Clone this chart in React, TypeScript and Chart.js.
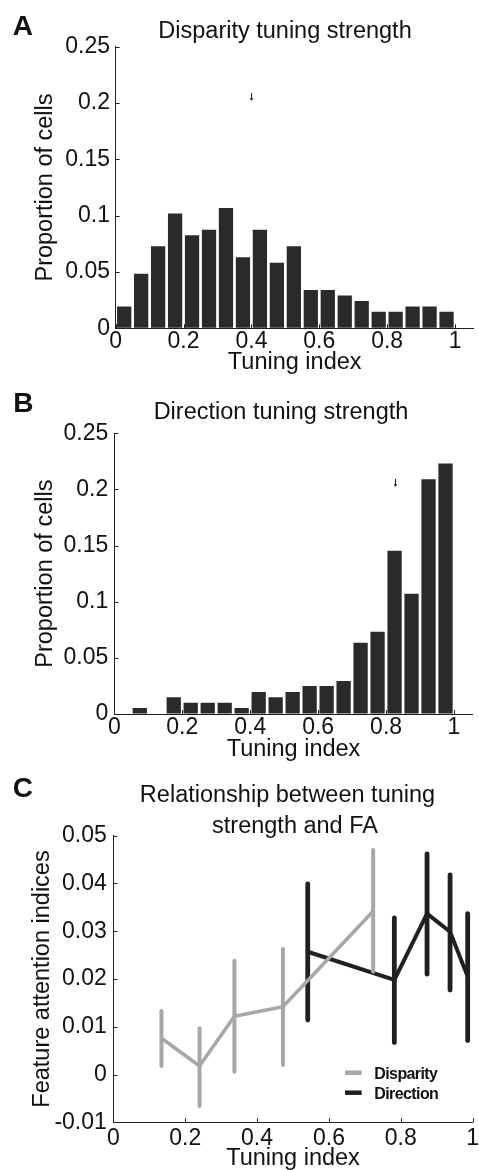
import React, { useEffect, useRef } from 'react';
import { Chart, registerables } from 'chart.js';

Chart.register(...registerables);

const FONT = "'Liberation Sans', Arial, Helvetica, sans-serif";
const TEXT = '#111111';
const AXIS = '#1f1f1f';
const BAR = '#2b292a';
const GRAY = '#a7a7a9';
const BLACK = '#231f20';

// ---------- Data: histograms (A, B) ----------
const binCenters = [0.025, 0.075, 0.125, 0.175, 0.225, 0.275, 0.325, 0.375, 0.425, 0.475, 0.525, 0.575, 0.625, 0.675, 0.725, 0.775, 0.825, 0.875, 0.925, 0.975];
const disparityProportion = [0.0194, 0.0485, 0.0728, 0.1019, 0.0825, 0.0874, 0.1068, 0.0631, 0.0874, 0.0583, 0.0728, 0.034, 0.034, 0.0291, 0.0243, 0.0146, 0.0146, 0.0194, 0.0194, 0.0146];
const directionProportion = [0, 0.0053, 0, 0.015, 0.010, 0.010, 0.010, 0.0053, 0.0196, 0.015, 0.0196, 0.025, 0.025, 0.0294, 0.0635, 0.0733, 0.1455, 0.107, 0.209, 0.223];

const disparityArrowX = [0.398];
const disparityArrowTop = [0.2089];
const disparityArrowBottom = [0.2018];
const directionArrowX = [0.825];
const directionArrowTop = [0.2093];
const directionArrowBottom = [0.2022];

const histXTicks = [0, 0.2, 0.4, 0.6, 0.8, 1];
const histXTickLabels = ['0', '0.2', '0.4', '0.6', '0.8', '1'];
const histYTicks = [0, 0.05, 0.1, 0.15, 0.2, 0.25];
const histYTickLabels = ['0', '0.05', '0.1', '0.15', '0.2', '0.25'];

// ---------- Data: panel C ----------
const disparityX = [0.134, 0.240, 0.337, 0.472, 0.723];
const disparityMean = [0.0076, 0.0018, 0.0122, 0.0142, 0.0342];
const disparityLow = [0.0018, -0.0066, 0.0006, 0.0020, 0.0215];
const disparityHigh = [0.0133, 0.0097, 0.0238, 0.0263, 0.0470];

const directionX = [0.541, 0.782, 0.873, 0.937, 0.986];
const directionMean = [0.0257, 0.0198, 0.0337, 0.0299, 0.0205];
const directionLow = [0.0114, 0.0067, 0.0210, 0.0177, 0.0071];
const directionHigh = [0.0399, 0.0328, 0.0462, 0.0418, 0.0337];

const faXTicks = [0, 0.2, 0.4, 0.6, 0.8, 1];
const faXTickLabels = ['0', '0.2', '0.4', '0.6', '0.8', '1'];
const faYTicks = [-0.01, 0, 0.01, 0.02, 0.03, 0.04, 0.05];
const faYTickLabels = ['-0.01', '0', '0.01', '0.02', '0.03', '0.04', '0.05'];

// ---------- Plugins ----------
const inwardTicks = {
  id: 'inwardTicks',
  beforeDatasetsDraw(chart: any, _a: any, opts: any) {
    const { ctx, chartArea, scales } = chart;
    const len = opts.length || 4;
    ctx.save();
    ctx.strokeStyle = AXIS;
    ctx.lineWidth = 1;
    ctx.beginPath();
    for (const t of scales.x.ticks) {
      const px = Math.round(scales.x.getPixelForValue(t.value)) + 0.5;
      ctx.moveTo(px, chartArea.bottom);
      ctx.lineTo(px, chartArea.bottom - len);
    }
    for (const t of scales.y.ticks) {
      const py = Math.round(scales.y.getPixelForValue(t.value)) + 0.5;
      ctx.moveTo(chartArea.left, py);
      ctx.lineTo(chartArea.left + len, py);
    }
    ctx.stroke();
    ctx.restore();
  },
};

const panelText = {
  id: 'panelText',
  afterDraw(chart: any, _a: any, opts: any) {
    const ctx = chart.ctx;
    ctx.save();
    ctx.fillStyle = TEXT;
    ctx.textBaseline = 'alphabetic';
    ctx.textAlign = 'left';
    ctx.font = `bold 28px ${FONT}`;
    ctx.fillText(opts.letter, opts.letterX, opts.letterY);
    ctx.font = `23.5px ${FONT}`;
    ctx.textAlign = 'center';
    const lines = opts.lines || [];
    for (let i = 0; i < lines.length; i++) {
      ctx.fillText(lines[i].text, lines[i].x, lines[i].y);
    }
    ctx.restore();
  },
};

const meanArrow = {
  id: 'meanArrow',
  afterDatasetsDraw(chart: any, _a: any, opts: any) {
    const { ctx, scales } = chart;
    const xs = opts.x || [];
    ctx.save();
    ctx.strokeStyle = '#222';
    ctx.fillStyle = '#222';
    ctx.lineWidth = 1;
    for (let i = 0; i < xs.length; i++) {
      const px = Math.round(scales.x.getPixelForValue(xs[i])) + 0.5;
      const top = scales.y.getPixelForValue(opts.top[i]);
      const bot = scales.y.getPixelForValue(opts.bottom[i]);
      ctx.beginPath();
      ctx.moveTo(px, top);
      ctx.lineTo(px, bot - 2);
      ctx.stroke();
      ctx.beginPath();
      ctx.moveTo(px - 1.8, bot - 2.8);
      ctx.lineTo(px + 1.8, bot - 2.8);
      ctx.lineTo(px, bot);
      ctx.closePath();
      ctx.fill();
    }
    ctx.restore();
  },
};

const errorBars = {
  id: 'errorBars',
  beforeDatasetDraw(chart: any, args: any) {
    const ds = chart.data.datasets[args.index];
    if (!ds || !ds.errLow) return;
    const { ctx, scales } = chart;
    ctx.save();
    ctx.strokeStyle = ds.borderColor;
    ctx.lineWidth = ds.errWidth;
    ctx.lineCap = 'round';
    ds.data.forEach((p: any, i: number) => {
      const px = scales.x.getPixelForValue(p.x);
      ctx.beginPath();
      ctx.moveTo(px, scales.y.getPixelForValue(ds.errLow[i]));
      ctx.lineTo(px, scales.y.getPixelForValue(ds.errHigh[i]));
      ctx.stroke();
    });
    ctx.restore();
  },
};

const insideLegend = {
  id: 'insideLegend',
  afterDraw(chart: any, _a: any, opts: any) {
    const ctx = chart.ctx;
    ctx.save();
    ctx.font = `bold 16px ${FONT}`;
    try {
      (ctx as any).letterSpacing = '-0.6px';
    } catch (e) {
      /* ignore */
    }
    ctx.textBaseline = 'alphabetic';
    ctx.textAlign = 'left';
    chart.data.datasets.forEach((ds: any, i: number) => {
      const yLine = opts.y + i * opts.rowGap;
      ctx.strokeStyle = ds.borderColor;
      ctx.lineWidth = opts.sampleWidth;
      ctx.lineCap = 'butt';
      ctx.beginPath();
      ctx.moveTo(opts.x, yLine);
      ctx.lineTo(opts.x + opts.sampleLength, yLine);
      ctx.stroke();
      ctx.fillStyle = TEXT;
      ctx.fillText(ds.label, opts.x + opts.textOffset, yLine + 5.8);
    });
    ctx.restore();
  },
};

// ---------- Scale builders ----------
type Geom = {
  canvasH: number;
  padTop: number;
  padRight: number;
  yWidth: number;
  xHeight: number;
  xTickPad: number;
  yTickPad: number;
  yTitlePad: number;
  xTitlePad: number;
};

function makeX(min: number, max: number, ticks: number[], labels: string[], g: Geom) {
  return {
    type: 'linear',
    min,
    max,
    offset: false,
    grid: { display: true, drawOnChartArea: false, drawTicks: false, offset: false },
    border: { display: true, color: AXIS, width: 1 },
    afterBuildTicks: (s: any) => {
      s.ticks = ticks.map((v) => ({ value: v }));
    },
    afterFit: (s: any) => {
      s.height = g.xHeight;
      s.paddingLeft = 0;
      s.paddingRight = 0;
    },
    ticks: {
      autoSkip: false,
      maxRotation: 0,
      minRotation: 0,
      padding: g.xTickPad,
      color: TEXT,
      font: { family: FONT, size: 23 },
      callback: (_v: any, i: number) => labels[i],
    },
    title: {
      display: true,
      text: 'Tuning index',
      color: TEXT,
      font: { family: FONT, size: 23.5 },
      padding: { top: 0, bottom: g.xTitlePad },
    },
  };
}

function makeY(min: number, max: number, ticks: number[], labels: string[], title: string, g: Geom) {
  return {
    type: 'linear',
    min,
    max,
    grid: { display: true, drawOnChartArea: false, drawTicks: false },
    border: { display: true, color: AXIS, width: 1 },
    afterBuildTicks: (s: any) => {
      s.ticks = ticks.map((v) => ({ value: v }));
    },
    afterFit: (s: any) => {
      s.width = g.yWidth;
      s.paddingTop = 0;
      s.paddingBottom = 0;
    },
    ticks: {
      autoSkip: false,
      padding: g.yTickPad,
      color: TEXT,
      font: { family: FONT, size: 23 },
      callback: (_v: any, i: number) => labels[i],
    },
    title: {
      display: true,
      text: title,
      color: TEXT,
      font: { family: FONT, size: 23.5 },
      padding: { top: g.yTitlePad, bottom: 0 },
    },
  };
}

function histConfig(
  values: number[],
  arrowX: number[],
  arrowTop: number[],
  arrowBottom: number[],
  g: Geom,
  letter: { letter: string; letterX: number; letterY: number },
  titleLines: { text: string; x: number; y: number }[]
): any {
  return {
    type: 'bar',
    data: {
      datasets: [
        {
          label: 'Proportion of cells',
          data: binCenters.map((x, i) => ({ x, y: values[i] })),
          backgroundColor: BAR,
          borderWidth: 0,
          barPercentage: 0.84,
          categoryPercentage: 1,
        },
      ],
    },
    options: {
      animation: false,
      responsive: false,
      layout: { padding: { top: g.padTop, right: g.padRight, left: 0, bottom: 0 } },
      scales: {
        x: makeX(0, 1.055, histXTicks, histXTickLabels, g),
        y: makeY(0, 0.25, histYTicks, histYTickLabels, 'Proportion of cells', g),
      },
      plugins: {
        legend: { display: false },
        tooltip: { enabled: false },
        inwardTicks: { length: 4 },
        meanArrow: { x: arrowX, top: arrowTop, bottom: arrowBottom },
        panelText: { ...letter, lines: titleLines },
      },
    },
    plugins: [inwardTicks, meanArrow, panelText],
  };
}

const geomA: Geom = { canvasH: 390, padTop: 46.7, padRight: 5.3, yWidth: 115.7, xHeight: 61.7, xTickPad: 0, yTickPad: 5.7, yTitlePad: 31.4, xTitlePad: 13.3 };
const geomB: Geom = { canvasH: 390, padTop: 53.3, padRight: 6.3, yWidth: 114.3, xHeight: 56, xTickPad: 0, yTickPad: 6, yTitlePad: 31.7, xTitlePad: 5.9 };
const geomC: Geom = { canvasH: 420, padTop: 75.7, padRight: 6.3, yWidth: 113.3, xHeight: 57.7, xTickPad: 2.7, yTickPad: 6.5, yTitlePad: 28.4, xTitlePad: 7.6 };

function configA() {
  return histConfig(
    disparityProportion,
    disparityArrowX,
    disparityArrowTop,
    disparityArrowBottom,
    geomA,
    { letter: 'A', letterX: 12.7, letterY: 35 },
    [{ text: 'Disparity tuning strength', x: 285, y: 38.3 }]
  );
}

function configB() {
  return histConfig(
    directionProportion,
    directionArrowX,
    directionArrowTop,
    directionArrowBottom,
    geomB,
    { letter: 'B', letterX: 13.3, letterY: 31.7 },
    [{ text: 'Direction tuning strength', x: 281, y: 39.3 }]
  );
}

function configC(): any {
  const g = geomC;
  return {
    type: 'line',
    data: {
      datasets: [
        {
          label: 'Disparity',
          data: disparityX.map((x, i) => ({ x, y: disparityMean[i] })),
          errLow: disparityLow,
          errHigh: disparityHigh,
          errWidth: 4,
          borderColor: GRAY,
          backgroundColor: GRAY,
          borderWidth: 3.6,
          borderJoinStyle: 'round',
          pointRadius: 0,
          tension: 0,
          fill: false,
          clip: false,
        },
        {
          label: 'Direction',
          data: directionX.map((x, i) => ({ x, y: directionMean[i] })),
          errLow: directionLow,
          errHigh: directionHigh,
          errWidth: 4.8,
          borderColor: BLACK,
          backgroundColor: BLACK,
          borderWidth: 4,
          borderJoinStyle: 'round',
          pointRadius: 0,
          tension: 0,
          fill: false,
          clip: false,
        },
      ],
    },
    options: {
      animation: false,
      responsive: false,
      layout: { padding: { top: g.padTop, right: g.padRight, left: 0, bottom: 0 } },
      scales: {
        x: makeX(0, 1, faXTicks, faXTickLabels, g),
        y: makeY(-0.01, 0.05, faYTicks, faYTickLabels, 'Feature attention indices', g),
      },
      plugins: {
        legend: { display: false },
        tooltip: { enabled: false },
        inwardTicks: { length: 4 },
        insideLegend: { x: 345, y: 312.7, rowGap: 20, sampleLength: 16.7, sampleWidth: 4.5, textOffset: 29.3 },
        panelText: {
          letter: 'C',
          letterX: 12.7,
          letterY: 36.7,
          lines: [
            { text: 'Relationship between tuning', x: 287.5, y: 42 },
            { text: 'strength and FA', x: 295, y: 73.3 },
          ],
        },
      },
    },
    plugins: [inwardTicks, errorBars, insideLegend, panelText],
  };
}

function ChartPanel({ top, height, build }: { top: number; height: number; build: () => any }) {
  const ref = useRef<HTMLCanvasElement | null>(null);
  useEffect(() => {
    if (!ref.current) return;
    const chart = new Chart(ref.current, build());
    return () => chart.destroy();
  }, []);
  return (
    <canvas
      ref={ref}
      width={479}
      height={height}
      style={{ position: 'absolute', left: 0, top, width: 479, height, display: 'block' }}
    />
  );
}

export default function App() {
  return (
    <div
      style={{
        position: 'absolute',
        left: 0,
        top: 0,
        width: 479,
        height: 1170,
        overflow: 'hidden',
        background: '#ffffff',
      }}
    >
      <ChartPanel top={0} height={geomA.canvasH} build={configA} />
      <ChartPanel top={380} height={geomB.canvasH} build={configB} />
      <ChartPanel top={760} height={geomC.canvasH} build={configC} />
    </div>
  );
}
